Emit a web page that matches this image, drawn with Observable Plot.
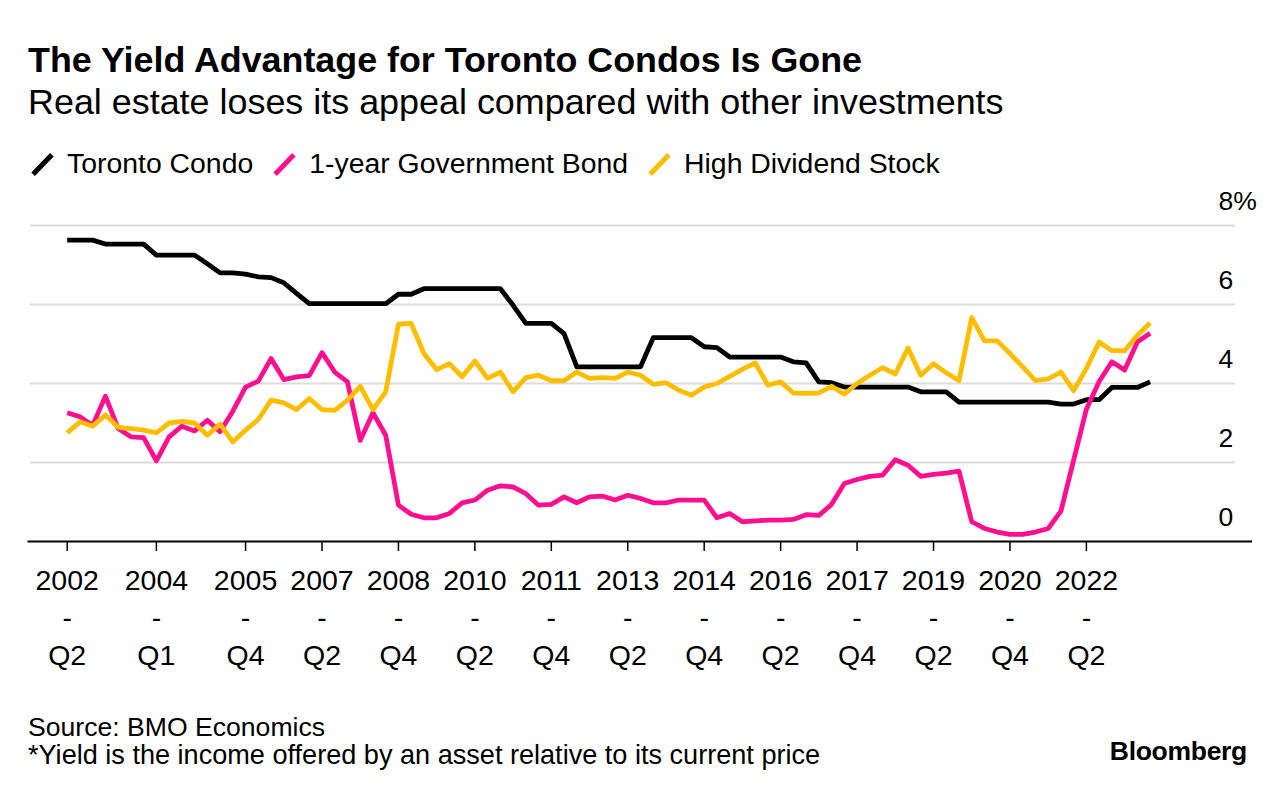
<!DOCTYPE html>
<html>
<head>
<meta charset="utf-8">
<script src="https://cdn.jsdelivr.net/npm/d3@7"></script>
<script src="https://cdn.jsdelivr.net/npm/@observablehq/plot@0.6"></script>
<style>
  html, body { margin: 0; padding: 0; background: #fff; }
  body { width: 1286px; height: 796px; position: relative; overflow: hidden;
         font-family: "Liberation Sans", Arial, Helvetica, sans-serif; color: #000; }
  .abs { position: absolute; line-height: 1; white-space: nowrap; }
  #title { left: 28px; top: 42.6px; font-size: 35.85px; font-weight: bold; }
  #subtitle { left: 28px; top: 84.7px; font-size: 35.9px; }
  #legend { left: 30px; top: 149.3px; font-size: 28.4px; display: flex; align-items: center; height: 28.4px; }
  .item { display: flex; align-items: center; margin-right: 19px; }
  .sw { width: 24px; height: 28px; position: relative; margin-right: 13px; }
  .sw::after { content: ""; position: absolute; left: 9.5px; top: 1px; width: 5px; height: 27px;
               background: var(--c); transform: rotate(44deg); }
  #chart { position: absolute; left: 0; top: 170px; }
  #chart svg { overflow: visible; }
  #source { left: 28px; top: 714.2px; font-size: 26.6px; }
  #note { left: 28px; top: 741.3px; font-size: 27.1px; }
  #brand { right: 39px; top: 737.6px; font-size: 26.5px; font-weight: bold; letter-spacing: -0.3px; }
</style>
</head>
<body>
<div id="title" class="abs">The Yield Advantage for Toronto Condos Is Gone</div>
<div id="subtitle" class="abs">Real estate loses its appeal compared with other investments</div>
<div id="legend" class="abs"></div>
<div id="chart"></div>
<div id="source" class="abs">Source: BMO Economics</div>
<div id="note" class="abs">*Yield is the income offered by an asset relative to its current price</div>
<div id="brand" class="abs">Bloomberg</div>
<script>
const quarters = [
  "2002 Q2","2002 Q3","2002 Q4",
  "2003 Q1","2003 Q2","2003 Q3","2003 Q4",
  "2004 Q1","2004 Q2","2004 Q3","2004 Q4",
  "2005 Q1","2005 Q2","2005 Q3","2005 Q4",
  "2006 Q1","2006 Q2","2006 Q3","2006 Q4",
  "2007 Q1","2007 Q2","2007 Q3","2007 Q4",
  "2008 Q1","2008 Q2","2008 Q3","2008 Q4",
  "2009 Q1","2009 Q2","2009 Q3","2009 Q4",
  "2010 Q1","2010 Q2","2010 Q3","2010 Q4",
  "2011 Q1","2011 Q2","2011 Q3","2011 Q4",
  "2012 Q1","2012 Q2","2012 Q3","2012 Q4",
  "2013 Q1","2013 Q2","2013 Q3","2013 Q4",
  "2014 Q1","2014 Q2","2014 Q3","2014 Q4",
  "2015 Q1","2015 Q2","2015 Q3","2015 Q4",
  "2016 Q1","2016 Q2","2016 Q3","2016 Q4",
  "2017 Q1","2017 Q2","2017 Q3","2017 Q4",
  "2018 Q1","2018 Q2","2018 Q3","2018 Q4",
  "2019 Q1","2019 Q2","2019 Q3","2019 Q4",
  "2020 Q1","2020 Q2","2020 Q3","2020 Q4",
  "2021 Q1","2021 Q2","2021 Q3","2021 Q4",
  "2022 Q1","2022 Q2","2022 Q3","2022 Q4",
  "2023 Q1","2023 Q2","2023 Q3"
];

const torontoCondo = [7.63,7.63,7.63,7.53,7.53,7.53,7.53,7.25,7.25,7.25,7.25,
  7.03,6.8,6.8,6.77,6.7,6.68,6.55,6.28,6.02,6.02,
  6.02,6.02,6.02,6.02,6.02,6.26,6.26,6.4,6.4,6.4,
  6.4,6.4,6.4,6.4,5.98,5.52,5.52,5.52,5.26,4.42,
  4.42,4.42,4.42,4.42,4.42,5.16,5.16,5.16,5.16,4.93,
  4.91,4.67,4.67,4.67,4.67,4.67,4.55,4.52,4.04,4.02,
  3.91,3.91,3.91,3.91,3.91,3.91,3.79,3.79,3.79,3.53,
  3.53,3.53,3.53,3.53,3.53,3.53,3.53,3.48,3.48,3.59,
  3.59,3.9,3.9,3.9,4.04];

const governmentBond = [3.26,3.16,2.94,3.68,2.86,2.65,2.63,2.04,2.65,2.92,2.80,
  3.07,2.78,3.30,3.91,4.06,4.63,4.10,4.17,4.20,4.78,
  4.29,4.04,2.56,3.26,2.69,0.92,0.69,0.60,0.60,0.71,
  0.98,1.05,1.30,1.41,1.38,1.21,0.92,0.94,1.13,0.98,
  1.13,1.15,1.05,1.17,1.09,0.98,0.98,1.05,1.05,1.05,
  0.60,0.71,0.50,0.52,0.54,0.54,0.56,0.68,0.66,0.94,
  1.47,1.57,1.65,1.68,2.07,1.93,1.65,1.70,1.73,1.78,
  0.50,0.33,0.24,0.18,0.18,0.24,0.33,0.77,2.06,3.35,
  4.05,4.55,4.34,5.05,5.27];

const dividendStock = [2.75,3.03,2.92,3.20,2.89,2.86,2.82,2.75,3.00,3.04,3.00,
  2.69,2.97,2.52,2.82,3.09,3.58,3.51,3.34,3.62,3.34,
  3.32,3.58,3.93,3.34,3.79,5.50,5.52,4.76,4.35,4.50,
  4.17,4.57,4.13,4.29,3.79,4.15,4.21,4.07,4.07,4.29,
  4.13,4.15,4.13,4.29,4.21,3.98,4.02,3.83,3.70,3.91,
  4.00,4.18,4.36,4.52,3.96,4.04,3.76,3.75,3.76,3.93,
  3.73,4.00,4.21,4.40,4.24,4.90,4.21,4.50,4.27,4.07,
  5.67,5.08,5.08,4.76,4.42,4.07,4.12,4.29,3.82,4.38,
  5.05,4.83,4.83,5.22,5.53];

const seriesNames = ["Toronto Condo", "1-year Government Bond", "High Dividend Stock"];
const seriesColors = ["#000000", "#ff0f8f", "#ffbd00"];
const seriesValues = [torontoCondo, governmentBond, dividendStock];

const tickQuarters = ["2002 Q2","2004 Q1","2005 Q4","2007 Q2","2008 Q4","2010 Q2","2011 Q4",
  "2013 Q2","2014 Q4","2016 Q2","2017 Q4","2019 Q2","2020 Q4","2022 Q2"];
const yTicks = [0, 2, 4, 6, 8];
const yTickLabels = ["0", "2", "4", "6", "8%"];

// legend
const legend = document.getElementById("legend");
seriesNames.forEach((name, k) => {
  const item = document.createElement("div");
  item.className = "item";
  const sw = document.createElement("span");
  sw.className = "sw";
  sw.style.setProperty("--c", seriesColors[k]);
  const t = document.createElement("span");
  t.textContent = name;
  item.append(sw, t);
  legend.append(item);
});

const rows = [];
seriesNames.forEach((name, k) => {
  seriesValues[k].forEach((v, i) => rows.push({series: name, i, quarter: quarters[i], value: v}));
});

const tickIdx = tickQuarters.map(q => quarters.indexOf(q));

const W = 1286, H = 510, mL = 30, mR = 51, mT = 55, mB = 139;
const pxPerQ = 12.74, x0px = 66.7;
const toIdx = px => (px - x0px) / pxPerQ;

const chart = Plot.plot({
  width: W,
  height: H,
  marginLeft: mL,
  marginRight: mR,
  marginTop: mT,
  marginBottom: mB,
  style: {fontFamily: '"Liberation Sans", Arial, Helvetica, sans-serif', color: "#000", background: "transparent", overflow: "visible"},
  x: {type: "linear", domain: [toIdx(mL), toIdx(W - mR)]},
  y: {domain: [0, 8], axis: null},
  color: {domain: seriesNames, range: seriesColors},
  marks: [
    Plot.ruleY([2, 4, 6, 8], {stroke: "#dcdcdc", strokeWidth: 2}),
    Plot.ruleY([0], {x1: toIdx(27.5), x2: toIdx(1252), stroke: "#000", strokeWidth: 2}),
    Plot.text(yTicks, {y: d => d, text: (d, j) => yTickLabels[j], frameAnchor: "right",
      textAnchor: "start", dx: -17, dy: -24, fontSize: 26.5, fill: "#000"}),
    Plot.axisX(tickIdx, {
      tickSize: 10, tickPadding: 11.3, strokeWidth: 1.5,
      tickFormat: (d) => quarters[d].replace(" ", "\n-\n"),
      fontSize: 28.5, lineHeight: 1.32, label: null
    }),
    Plot.line(rows, {x: "i", y: "value", z: "series", stroke: "series",
      strokeWidth: 4.8, strokeLinejoin: "round", strokeLinecap: "butt"})
  ]
});
document.getElementById("chart").append(chart);
</script>
</body>
</html>
